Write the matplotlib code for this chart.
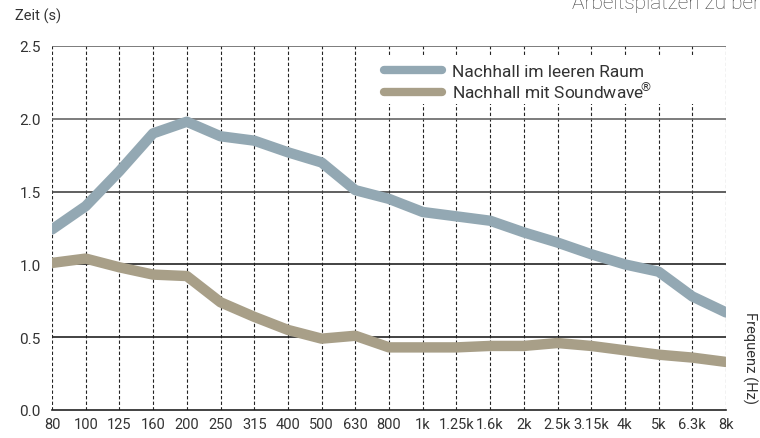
import matplotlib.pyplot as plt
from matplotlib.patches import Rectangle

freq_labels = ['80', '100', '125', '160', '200', '250', '315', '400', '500', '630',
               '800', '1k', '1.25k', '1.6k', '2k', '2.5k', '3.15k', '4k', '5k', '6.3k', '8k']
leerer_raum = [1.24, 1.40, 1.64, 1.90, 1.98, 1.88, 1.85, 1.77, 1.70, 1.51,
               1.45, 1.36, 1.33, 1.30, 1.22, 1.15, 1.07, 1.00, 0.95, 0.78, 0.67]
mit_soundwave = [1.01, 1.04, 0.98, 0.93, 0.92, 0.74, 0.64, 0.55, 0.49, 0.51,
                 0.43, 0.43, 0.43, 0.44, 0.44, 0.46, 0.44, 0.41, 0.38, 0.36, 0.33]
y_ticks = [0.0, 0.5, 1.0, 1.5, 2.0, 2.5]

plt.rcParams['font.family'] = ['Roboto', 'DejaVu Sans']

fig = plt.figure(figsize=(7.6, 4.39), dpi=100)
ax = fig.add_axes([52 / 760, 1 - 411 / 439, 674 / 760, 364 / 439])

x = list(range(len(freq_labels)))

# grid
for i in x:
    ax.axvline(i, color='#222222', lw=0.8, ls=(0, (3, 2)), zorder=1)
grid_colors = {0.5: '#222222', 1.0: '#222222', 1.5: '#444444', 2.0: '#666666', 2.5: '#666666'}
for v in y_ticks[1:]:
    ax.axhline(v, color=grid_colors[v], lw=1.2, zorder=1)

# white area behind the legend hides the dashed lines there
ax.add_patch(Rectangle((0.49, 0.84), 0.48, 0.135, transform=ax.transAxes,
                       facecolor='white', edgecolor='none', zorder=2))

ax.plot(x, leerer_raum, color='#93a8b3', lw=7.5, solid_capstyle='round',
        solid_joinstyle='round', label='Nachhall im leeren Raum', zorder=3)
ax.plot(x, mit_soundwave, color='#a89f88', lw=7.5, solid_capstyle='round',
        solid_joinstyle='round', label=r'Nachhall mit Soundwave$^{\!\!\circledR}$', zorder=3)

ax.set_xlim(0, len(freq_labels) - 1)
ax.set_ylim(0, 2.5)
ax.set_xticks(x)
ax.set_xticklabels(freq_labels, fontsize=10.5, color='#333333')
ax.set_yticks(y_ticks)
ax.set_yticklabels([f'{v:.1f}' for v in y_ticks], fontsize=11, color='#333333')
ax.tick_params(axis='y', length=0, pad=8)
ax.tick_params(axis='x', length=0, pad=5)

for s in ['top', 'right', 'left']:
    ax.spines[s].set_visible(False)
ax.spines['bottom'].set_color('#222222')
ax.spines['bottom'].set_linewidth(1.2)

leg = ax.legend(loc='upper left', bbox_to_anchor=(0.47, 0.995), frameon=False,
                fontsize=12.5, handlelength=3.3, handletextpad=0.6, labelspacing=0.12)
for line in leg.get_lines():
    line.set_linewidth(6)
for t in leg.get_texts():
    t.set_color('#333333')

fig.text(15 / 760, 1 - 16 / 439, 'Zeit (s)', fontsize=10.5, color='#333333', va='center')
fig.text(750 / 760, 1 - 358 / 439, 'Frequenz (Hz)', fontsize=10.5, color='#333333',
         rotation=-90, ha='center', va='center')
fig.text(572 / 760, 1 - 9 / 439, 'Arbeitsplätzen zu ber', fontsize=15, color='#444444',
         va='baseline', ha='left', fontweight='light')

fig.savefig('out.png', dpi=100)
